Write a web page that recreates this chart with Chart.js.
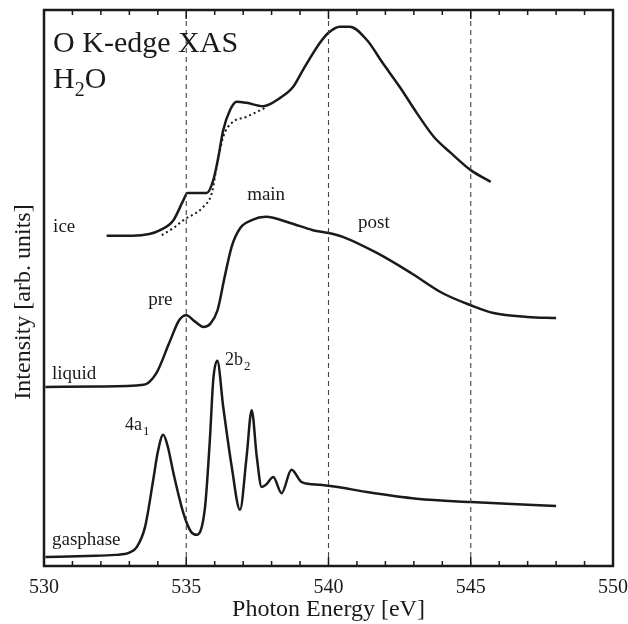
<!DOCTYPE html>
<html>
<head>
<meta charset="utf-8">
<script src="https://cdn.jsdelivr.net/npm/chart.js@4.4.0/dist/chart.umd.min.js"></script>
<style>
html, body { margin: 0; padding: 0; background: #fff; }
#wrap { width: 628px; height: 624px; }
</style>
</head>
<body>
<div id="wrap"><canvas id="xasChart" width="628" height="624"></canvas></div>
<script>
// O K-edge XAS of H2O (intensity in arbitrary units, 0..100)
const gasE = [530.05, 531.5, 532.5, 533.0, 533.26, 533.55, 533.84, 534.0, 534.19, 534.35, 534.55, 534.9, 535.15, 535.37, 535.66, 535.83, 535.95, 536.09, 536.3, 536.6, 536.89, 537.12, 537.3, 537.48, 537.65, 537.8, 538.06, 538.35, 538.7, 539.06, 539.7, 540.33, 541.35, 543.1, 545.0, 548.0];
const gasI = [1.6, 1.8, 2.0, 2.4, 3.4, 7.0, 15.5, 20.5, 23.6, 21.5, 16.7, 9.5, 6.3, 5.6, 10.6, 22.7, 33.5, 36.9, 28.6, 17.8, 10.1, 19.6, 28, 19.6, 14.2, 14.6, 16, 13.1, 17.3, 15.1, 14.6, 14.2, 13.3, 12.1, 11.5, 10.8];

const liquidE = [530.05, 532.0, 533.5, 533.95, 534.4, 534.75, 535.0, 535.3, 535.6, 535.85, 536.1, 536.35, 536.6, 536.9, 537.3, 537.8, 538.65, 539.45, 540.0, 540.5, 541.7, 542.9, 544.0, 545.0, 545.8, 547.0, 548.0];
const liquidI = [32.2, 32.3, 32.6, 34.7, 40.1, 44.2, 45.1, 44, 43, 43.6, 46, 52, 57.5, 60.8, 62.2, 62.8, 61.7, 60.4, 59.9, 59.2, 56.3, 52.7, 49.1, 46.9, 45.5, 44.8, 44.6];

const iceE = [532.2, 533.1, 533.7, 534.08, 534.55, 534.9, 535.04, 535.4, 535.72, 535.95, 536.13, 536.3, 536.54, 536.77, 537.12, 537.7, 538.3, 538.76, 539.1, 539.7, 540.0, 540.4, 540.75, 541.35, 541.9, 542.5, 543.1, 543.7, 544.3, 545.0, 545.7];
const iceI = [59.4, 59.4, 59.7, 60.4, 62.2, 65.8, 67.1, 67.1, 67.1, 69.4, 73.6, 78.4, 82, 83.5, 83.3, 82.7, 84.2, 86.2, 89.2, 94.1, 95.9, 97, 97, 94.6, 90.5, 86.2, 81.5, 77.2, 74.3, 71.2, 69.1];

// dotted curve under the ice spectrum
const iceRefE = [534.14, 534.55, 534.9, 535.6, 535.9, 536.07, 536.3, 536.6, 537.12, 537.77];
const iceRefI = [59.5, 60.8, 62.2, 64.6, 67.1, 71.8, 77.2, 79.7, 80.8, 82.4];

// vertical dashed guide lines
const guideE = [535, 540, 545];

const labels = [
    { text: 'ice', e: 530.32, i: 60.1 },
    { text: 'main', e: 537.14, i: 65.8 },
    { text: 'post', e: 541.04, i: 60.8 },
    { text: 'pre', e: 533.66, i: 47.0 },
    { text: 'liquid', e: 530.28, i: 33.6 },
    { text: 'gasphase', e: 530.28, i: 3.8 },
    { text: '2b', sub: '2', e: 536.36, i: 36.2, small: true },
    { text: '4a', sub: '1', e: 532.85, i: 24.5, small: true }
];

const SERIF = '"Liberation Serif", "DejaVu Serif", serif';
const INK = '#1a1a1a';

function pts(xs, ys) {
    return xs.map((x, k) => ({ x: x, y: ys[k] }));
}

const spectrumStyle = {
    borderColor: INK,
    borderWidth: 2.5,
    pointRadius: 0,
    fill: false,
    cubicInterpolationMode: 'monotone'
};

const datasets = guideE.map(e => ({
    data: [{ x: e, y: 0 }, { x: e, y: 100 }],
    borderColor: '#444',
    borderWidth: 1.1,
    borderDash: [5, 4],
    pointRadius: 0,
    fill: false
}));
datasets.push({
    data: pts(iceRefE, iceRefI),
    borderColor: INK,
    borderWidth: 2,
    borderDash: [2, 3],
    pointRadius: 0,
    fill: false,
    cubicInterpolationMode: 'monotone'
});
datasets.push(Object.assign({ data: pts(iceE, iceI) }, spectrumStyle));
datasets.push(Object.assign({ data: pts(liquidE, liquidI) }, spectrumStyle));
datasets.push(Object.assign({ data: pts(gasE, gasI) }, spectrumStyle));

// рамка, внутренние засечки и подписи
const framePlugin = {
    id: 'frame',
    afterDatasetsDraw(chart) {
        const ctx = chart.ctx;
        const a = chart.chartArea;
        const x = chart.scales.x;
        const y = chart.scales.y;
        ctx.save();
        ctx.strokeStyle = INK;
        ctx.lineWidth = 1.5;
        for (let e = 531; e < 550; e++) {
            const px = x.getPixelForValue(e);
            const len = e % 5 === 0 ? 9 : 5;
            ctx.beginPath();
            ctx.moveTo(px, a.bottom);
            ctx.lineTo(px, a.bottom - len);
            ctx.moveTo(px, a.top);
            ctx.lineTo(px, a.top + len);
            ctx.stroke();
        }
        ctx.lineWidth = 2.5;
        ctx.strokeRect(a.left, a.top, a.right - a.left, a.bottom - a.top);

        ctx.fillStyle = INK;
        ctx.textBaseline = 'alphabetic';
        ctx.textAlign = 'left';

        // header
        const hx = x.getPixelForValue(530.32);
        ctx.font = '30px ' + SERIF;
        ctx.fillText('O K-edge XAS', hx, y.getPixelForValue(92.4));
        const hy = y.getPixelForValue(86.0);
        ctx.fillText('H', hx, hy);
        let w = ctx.measureText('H').width;
        ctx.font = '20px ' + SERIF;
        ctx.fillText('2', hx + w, hy + 8);
        w += ctx.measureText('2').width;
        ctx.font = '30px ' + SERIF;
        ctx.fillText('O', hx + w, hy);

        labels.forEach(l => {
            const lx = x.getPixelForValue(l.e);
            const ly = y.getPixelForValue(l.i);
            ctx.font = (l.small ? '18px ' : '19px ') + SERIF;
            ctx.fillText(l.text, lx, ly);
            if (l.sub) {
                const tw = ctx.measureText(l.text).width;
                ctx.font = '13px ' + SERIF;
                ctx.fillText(l.sub, lx + tw + 1, ly + 5);
            }
        });

        // y axis title
        ctx.save();
        ctx.translate(24, 302);
        ctx.rotate(-Math.PI / 2);
        ctx.textAlign = 'center';
        ctx.textBaseline = 'middle';
        ctx.font = '24px ' + SERIF;
        ctx.fillText('Intensity [arb. units]', 0, 0);
        ctx.restore();

        ctx.restore();
    }
};

new Chart(document.getElementById('xasChart'), {
    type: 'line',
    data: { datasets: datasets },
    options: {
        responsive: false,
        devicePixelRatio: 1,
        animation: false,
        layout: { padding: { top: 10, right: 15, left: 0, bottom: 0 } },
        plugins: { legend: { display: false }, tooltip: { enabled: false } },
        scales: {
            x: {
                type: 'linear',
                min: 530,
                max: 550,
                grid: { display: false, drawTicks: false },
                border: { display: false },
                ticks: {
                    stepSize: 5,
                    padding: 10,
                    color: INK,
                    font: { family: SERIF, size: 20 },
                    maxRotation: 0
                },
                title: {
                    display: true,
                    text: 'Photon Energy [eV]',
                    color: INK,
                    font: { family: SERIF, size: 24 },
                    padding: { top: 0, bottom: 0 }
                },
                afterFit(scale) {
                    scale.height = 58;
                    scale.paddingLeft = 0;
                    scale.paddingRight = 0;
                }
            },
            y: {
                min: 0,
                max: 100,
                grid: { display: false, drawTicks: false },
                border: { display: false },
                ticks: { display: false },
                afterFit(scale) {
                    scale.width = 44;
                    scale.paddingTop = 0;
                    scale.paddingBottom = 0;
                }
            }
        }
    },
    plugins: [framePlugin]
});
</script>
</body>
</html>
